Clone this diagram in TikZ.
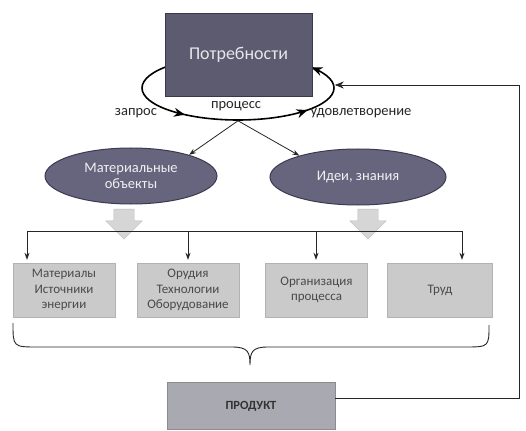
\documentclass[tikz,border=0pt]{standalone}
\usepackage{fontspec}
\setmainfont{Carlito}
\usetikzlibrary{arrows.meta,shapes.geometric,shapes.arrows,decorations.markings}
\definecolor{topfill}{HTML}{5D5B70}
\definecolor{topdraw}{HTML}{3A3848}
\definecolor{ellfill}{HTML}{67657D}
\definecolor{elldraw}{HTML}{3C3A50}
\definecolor{boxfill}{HTML}{CACACA}
\definecolor{boxtext}{HTML}{4A4A4A}
\definecolor{prodfill}{HTML}{A9A9B2}
\definecolor{blockfill}{HTML}{D6D6D6}
\tikzset{
  conn/.style={draw=black!85, line width=0.8pt, -{Stealth[length=7pt,width=5pt]}},
  labeltext/.style={font=\fontsize{14.5}{16}\selectfont, text=black!85},
  needbox/.style={draw=topdraw, line width=0.8pt, fill=topfill, minimum width=147pt, minimum height=83pt,
    font=\fontsize{18}{20}\selectfont, text=white!85!topfill},
  ringnode/.style={ellipse, draw=black, line width=1.6pt, minimum width=192pt, minimum height=64pt, inner sep=0pt,
    postaction={decorate}, decoration={markings,
      mark=at position 0.075 with {\arrow{Stealth[length=11pt,width=9pt]}},
      mark=at position 0.625 with {\arrow{Stealth[length=11pt,width=9pt]}},
      mark=at position 0.915 with {\arrow{Stealth[length=11pt,width=9pt]}}}},
  bigell/.style={ellipse, draw=elldraw, line width=1pt, fill=ellfill, minimum height=56pt, inner sep=0pt,
    align=center, font=\fontsize{14.5}{16}\selectfont, text=white!90!ellfill},
  blockarrow/.style={single arrow, draw=black!25, fill=blockfill, rotate=-90, minimum height=30pt,
    minimum width=36pt, single arrow head extend=8pt, inner xsep=0pt, inner ysep=10pt,
    text height=0pt, text depth=0pt},
  resbox/.style={fill=boxfill, draw=black!30, line width=0.4pt, minimum width=102pt, minimum height=54pt,
    align=center, font=\fontsize{13}{15.5}\selectfont, text=boxtext},
  prodbox/.style={fill=prodfill, draw=black!45, line width=0.6pt, minimum width=168pt, minimum height=47pt,
    font=\bfseries\fontsize{12.5}{14}\selectfont, text=black!80},
}
\begin{document}
\begin{tikzpicture}[x=1pt,y=-1pt]
\useasboundingbox[fill=white] (0,0) rectangle (526,430);
% ring and need box
\node[ringnode] (ring) at (238,88) {};
\node[needbox] (need) at (238.5,55) {Потребности};
\node[labeltext] (zapros) at (136,113) {запрос};
\node[labeltext] (process) at (236,106) {процесс};
\node[labeltext] (udovl) at (361,113) {удовлетворение};
% ellipses
\node[bigell, minimum width=172pt] (mat) at (131,176) {Материальные\\объекты};
\node[bigell, minimum width=176pt] (idea) at (358,177) {Идеи, знания};
\draw[conn] (ring.south) -- (mat.20);
\draw[conn] (ring.south) -- (idea.160);
% block arrows
\node[blockarrow] (arrL) at (124,219) {};
\node[blockarrow] (arrR) at (368,219) {};
% bus
\coordinate (busA) at (27,231);
\coordinate (busB) at (188,231);
\coordinate (busC) at (316,231);
\coordinate (busD) at (462,231);
\draw[line width=0.8pt, black!85] (busA) -- (busD);
% resource boxes
\node[resbox] (b1) at (64,290) {Материалы\\Источники\\энергии};
\node[resbox] (b2) at (188,290) {Орудия\\Технологии\\Оборудование};
\node[resbox] (b3) at (316.5,290) {Организация\\процесса};
\node[resbox, minimum width=105pt] (b4) at (440,290) {Труд};
\draw[conn, shorten >=3pt] (busA) -- (busA |- b1.north);
\draw[conn, shorten >=3pt] (busB) -- (busB |- b2.north);
\draw[conn, shorten >=3pt] (busC) -- (busC |- b3.north);
\draw[conn, shorten >=3pt] (busD) -- (busD |- b4.north);
% brace
\coordinate (brL) at (13,323);
\coordinate (brR) at (489,325);
\coordinate (brT) at (250,365);
\draw[line width=0.9pt, black!85] (brL) .. controls (13,347) .. (38,347) -- (232,347)
  .. controls (248,347) and (250,352) .. (brT)
  .. controls (250,352) and (252,347) .. (268,347) -- (464,347)
  .. controls (489,347) .. (brR);
% product
\node[prodbox] (prod) at (251,406) {ПРОДУКТ};
\coordinate (fb) at (519,398);
\draw[line width=0.8pt, black!85, -{Stealth[length=9pt,width=7pt]}] (prod.east |- fb) -- (fb) |- ([yshift=3pt]ring.east);
\end{tikzpicture}
\end{document}
